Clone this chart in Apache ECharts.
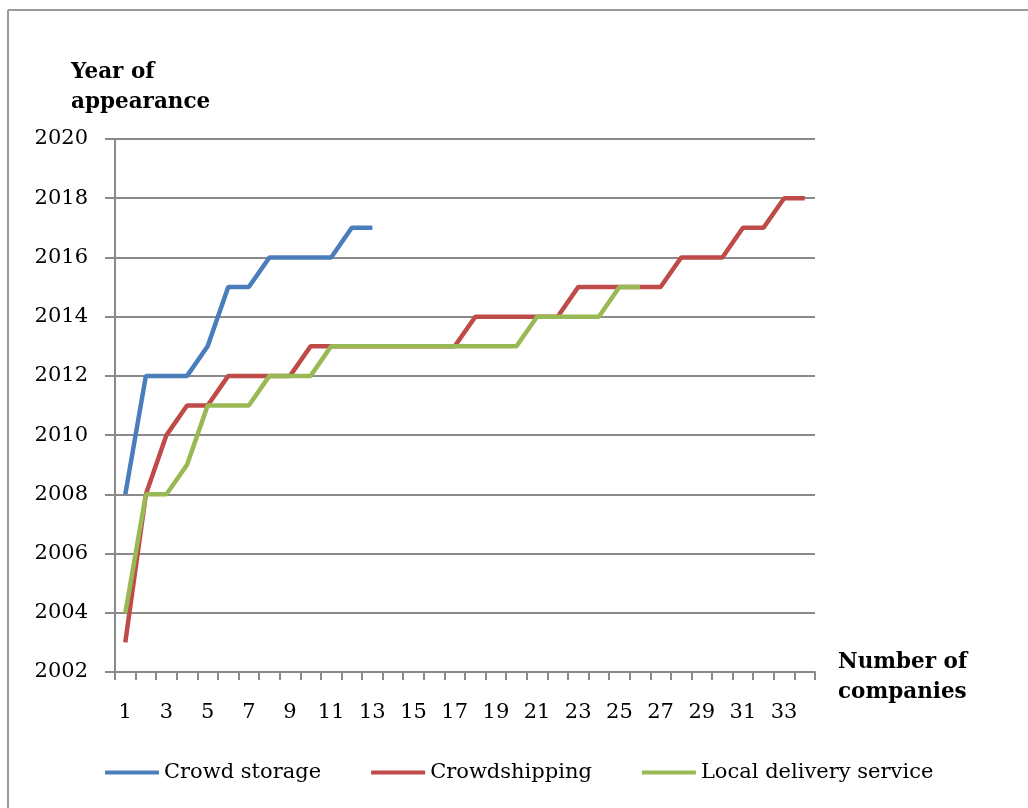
<!DOCTYPE html>
<html>
<head>
<meta charset="utf-8">
<script src="https://cdn.jsdelivr.net/npm/echarts@6/dist/echarts.min.js"></script>
<style>
html,body{margin:0;padding:0;background:#fff;}
#chart{width:1028px;height:808px;}
</style>
</head>
<body>
<div id="chart"></div>
<script>
const categories = ['1','2','3','4','5','6','7','8','9','10','11','12','13','14','15','16','17','18','19','20','21','22','23','24','25','26','27','28','29','30','31','32','33','34'];
const crowdStorage = [2008,2012,2012,2012,2013,2015,2015,2016,2016,2016,2016,2017,2017];
const crowdshipping = [2003,2008,2010,2011,2011,2012,2012,2012,2012,2013,2013,2013,2013,2013,2013,2013,2013,2014,2014,2014,2014,2014,2015,2015,2015,2015,2015,2016,2016,2016,2017,2017,2018,2018];
const localDelivery = [2004,2008,2008,2009,2011,2011,2011,2012,2012,2012,2013,2013,2013,2013,2013,2013,2013,2013,2013,2013,2014,2014,2014,2014,2015,2015];
const yMin = 2002, yMax = 2020, yStep = 2;

const FONT = 'DejaVu Serif';
const GRAY = '#8a8a8a';
const chart = echarts.init(document.getElementById('chart'));
chart.setOption({
  animation: false,
  backgroundColor: '#fff',
  grid: {left: 115, top: 139, right: 213, bottom: 136, containLabel: false},
  graphic: [
    {type: 'line', shape: {x1: 8, y1: 10, x2: 1028, y2: 10}, style: {stroke: '#9a9a9a', lineWidth: 2}},
    {type: 'line', shape: {x1: 8, y1: 10, x2: 8, y2: 808}, style: {stroke: '#9a9a9a', lineWidth: 2}},
    {type: 'text', left: 71, top: 57, style: {text: 'Year of\nappearance', font: 'bold 21.5px "DejaVu Serif"', lineHeight: 30, fill: '#000'}},
    {type: 'text', left: 838, top: 647, style: {text: 'Number of\ncompanies', font: 'bold 21.5px "DejaVu Serif"', lineHeight: 30, fill: '#000'}}
  ],
  legend: {
    bottom: 20, left: 100,
    itemWidth: 54, itemHeight: 4, itemGap: 50,
    icon: 'rect',
    textStyle: {fontFamily: FONT, fontSize: 21, color: '#000'},
    data: ['Crowd storage','Crowdshipping','Local delivery service']
  },
  xAxis: {
    type: 'category',
    data: categories,
    boundaryGap: true,
    axisLine: {lineStyle: {color: GRAY, width: 2}},
    axisTick: {show: true, interval: 0, length: 8, lineStyle: {color: GRAY, width: 2}},
    axisLabel: {interval: 1, margin: 30, fontFamily: FONT, fontSize: 21, color: '#000'},
    splitLine: {show: false}
  },
  yAxis: {
    type: 'value',
    min: yMin, max: yMax, interval: yStep,
    axisLine: {show: true, lineStyle: {color: GRAY, width: 2}},
    axisTick: {show: true, length: 10, lineStyle: {color: GRAY, width: 2}},
    axisLabel: {margin: 27, fontFamily: FONT, fontSize: 21, color: '#000', formatter: v => String(v)},
    splitLine: {show: true, lineStyle: {color: GRAY, width: 2}}
  },
  series: [
    {name: 'Crowd storage', type: 'line', data: crowdStorage, symbol: 'none', lineStyle: {color: '#4a7ebb', width: 4.5}, itemStyle: {color: '#4a7ebb'}},
    {name: 'Crowdshipping', type: 'line', data: crowdshipping, symbol: 'none', lineStyle: {color: '#be4b48', width: 4.5}, itemStyle: {color: '#be4b48'}},
    {name: 'Local delivery service', type: 'line', data: localDelivery, symbol: 'none', lineStyle: {color: '#98b954', width: 4.5}, itemStyle: {color: '#98b954'}}
  ]
});
</script>
</body>
</html>
